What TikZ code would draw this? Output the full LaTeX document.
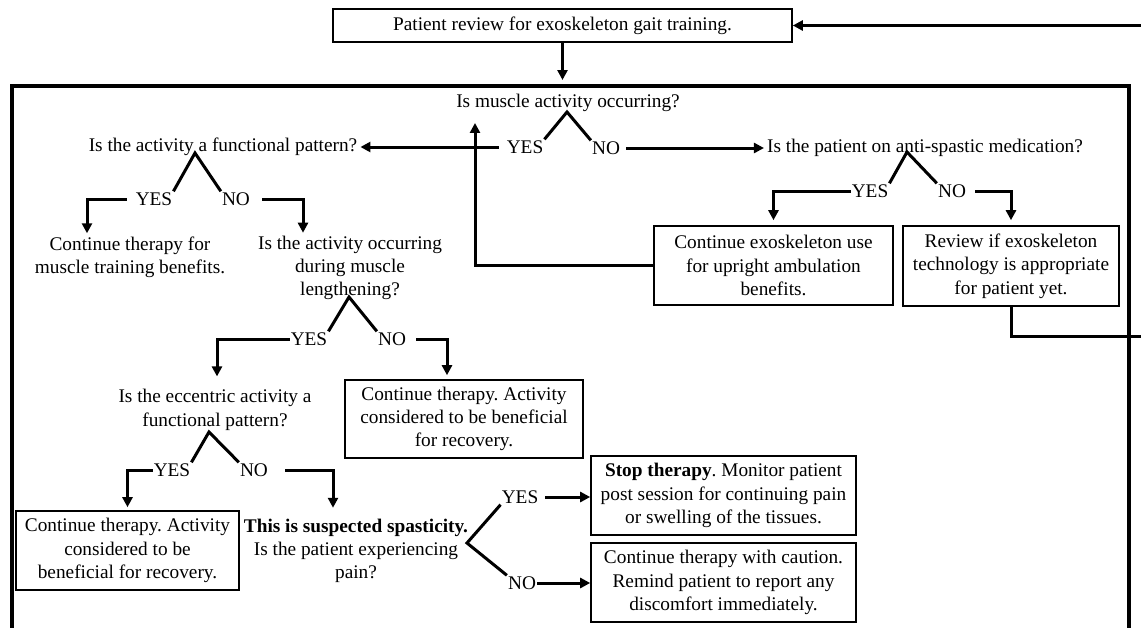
\documentclass[tikz,border=0pt]{standalone}
\usepackage{fontspec}
\setmainfont{Liberation Serif}
\usepackage{tikz}
\usetikzlibrary{positioning, arrows.meta}
\frenchspacing

\begin{document}
\begin{tikzpicture}[
        x=1pt, y=-1pt,
        font=\fontsize{19.3}{23.3}\selectfont,
        box/.style={rectangle, draw=black, line width=1.6pt, align=center, inner sep=2pt},
        question/.style={align=center, inner sep=3pt},
        answer/.style={inner sep=1pt},
        frame/.style={rectangle, draw=black, line width=4pt, minimum width=1117pt, minimum height=600pt, anchor=north west},
        arrow/.style={-{Triangle[length=10pt, width=10pt]}, line width=3pt},
        branch/.style={line width=3pt}
    ]
    \useasboundingbox (0,0) rectangle (1141,627);
    \clip (0,0) rectangle (1141,627);

    % entry and outer frame
    \node[box, minimum width=459pt, minimum height=33pt] (patient) at (562.5,25.5) {Patient review for exoskeleton gait training.};
    \node[frame] (frame) at (10,84) {};
    \coordinate (loop) at (1160,336);

    % first question
    \node[question] (musc) at (568,103) {Is muscle activity occurring?};
    \coordinate (muscapex) at (567,112);
    \node[answer] (muscyes) at (525,147) {YES};
    \node[answer] (muscno) at (606,148) {NO};

    % left branch
    \node[question] (func) at (223,147) {Is the activity a functional pattern?};
    \coordinate (funcapex) at (195,153);
    \node[answer] (funcyes) at (154,199) {YES};
    \node[answer] (funcno) at (236,199) {NO};
    \node[question] (train) at (130,257) {Continue therapy for\\ muscle training benefits.};
    \node[question] (length) at (350,268) {Is the activity occurring\\ during muscle\\ lengthening?};
    \coordinate (lengthapex) at (349,297);
    \node[answer] (lengthyes) at (309,339) {YES};
    \node[answer] (lengthno) at (392,339) {NO};
    \node[box, minimum width=238pt, minimum height=78pt] (benefit1) at (464,419) {Continue therapy. Activity\\ considered to be beneficial\\ for recovery.};
    \node[question] (ecc) at (215,410) {Is the eccentric activity a\\ functional pattern?};
    \coordinate (eccapex) at (209,432);
    \node[answer] (eccyes) at (172,470) {YES};
    \node[answer] (eccno) at (254,470) {NO};
    \node[box, minimum width=223pt, minimum height=79pt] (benefit2) at (127.5,550.5) {Continue therapy. Activity\\ considered to be\\ beneficial for recovery.};
    \node[question] (spas) at (356,551) {\textbf{This is suspected spasticity.}\\ Is the patient experiencing\\ pain?};
    \coordinate (painapex) at (467,543);
    \node[answer] (painyes) at (520,497) {YES};
    \node[answer] (painno) at (522,583) {NO};
    \node[box, minimum width=265pt, minimum height=79pt] (stop) at (723.5,495.5) {\textbf{Stop therapy}. Monitor patient\\ post session for continuing pain\\ or swelling of the tissues.};
    \node[box, minimum width=265pt, minimum height=79pt] (caution) at (723.5,582.5) {Continue therapy with caution.\\ Remind patient to report any\\ discomfort immediately.};

    % right branch
    \node[question] (anti) at (925,148) {Is the patient on anti-spastic medication?};
    \coordinate (antiapex) at (907,152);
    \node[answer] (antiyes) at (870,191) {YES};
    \node[answer] (antino) at (952,191) {NO};
    \node[box, minimum width=239pt, minimum height=79pt] (exo) at (773.5,265.5) {Continue exoskeleton use\\ for upright ambulation\\ benefits.};
    \node[box, minimum width=216pt, minimum height=80pt] (review) at (1011,266) {Review if exoskeleton\\ technology is appropriate\\ for patient yet.};

    % carets
    \draw[branch] (muscyes.north east) -- (muscapex) -- (muscno.north west);
    \draw[branch] (funcyes.north east) -- (funcapex) -- (funcno.north west);
    \draw[branch] (lengthyes.north east) -- (lengthapex) -- (lengthno.north west);
    \draw[branch] (eccyes.north east) -- (eccapex) -- (eccno.north west);
    \draw[branch] (antiyes.north east) -- (antiapex) -- (antino.north west);
    \draw[branch] (painyes.south west) -- (painapex) -- (painno.north west);

    % connectors
    \draw[arrow, shorten >=4pt] (patient.south) -- (patient.south |- frame.north);
    \draw[arrow, shorten <=7pt] (muscyes.west) -- (func.east |- muscyes.west);
    \draw[arrow, shorten <=5pt] (muscno.east) -- (anti.west |- muscno.east);
    \draw[arrow, shorten <=8pt] (funcyes.west) -| ([xshift=-43pt]train.north);
    \draw[arrow, shorten <=11pt] (funcno.east) -| ([xshift=-47pt]length.north);
    \draw[arrow, shorten >=10pt] (lengthyes.west) -| ([xshift=2pt]ecc.north);
    \draw[arrow, shorten <=9pt, shorten >=4pt] (lengthno.east) -| ([xshift=-17pt]benefit1.north);
    \draw[arrow, shorten >=3pt] (eccyes.west) -| (benefit2.north);
    \draw[arrow, shorten <=16pt, shorten >=8pt] (eccno.east) -| ([xshift=-23pt]spas.north);
    \draw[arrow, shorten <=6pt] (painyes.east) -- (painyes.east -| stop.west);
    \draw[arrow] (painno.east) -- (painno.east -| caution.west);
    \draw[arrow, shorten >=5pt] (antiyes.west) -| (exo.north);
    \draw[arrow, shorten <=8pt, shorten >=5pt] (antino.east) -| (review.north);
    \draw[arrow, shorten >=8pt] (exo.west) -| ([xshift=-93pt]musc.south);
    \draw[arrow] (review.south) |- (loop) |- (patient.east);
\end{tikzpicture}
\end{document}
